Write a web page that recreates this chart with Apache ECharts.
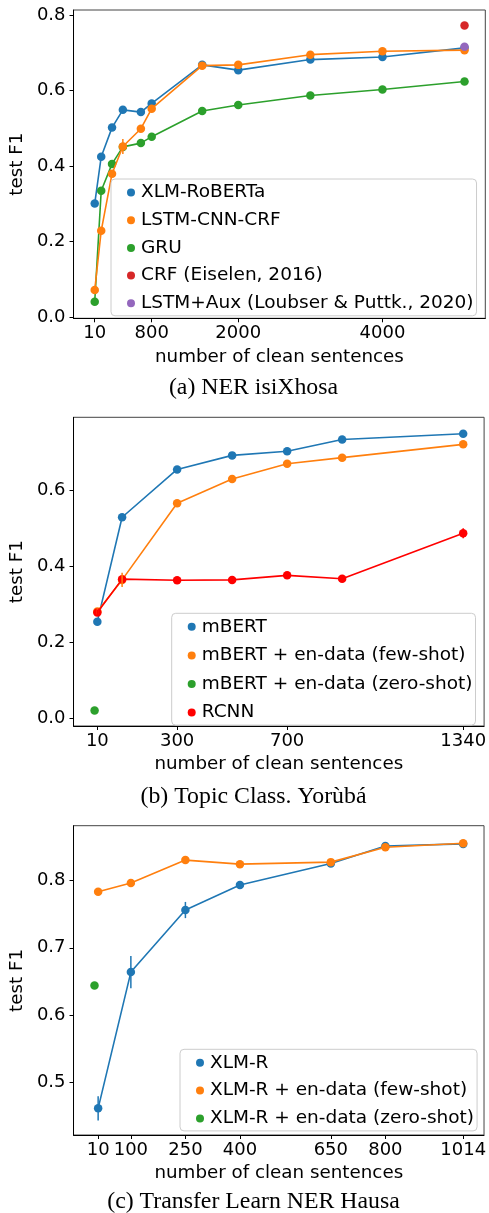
<!DOCTYPE html>
<html>
<head>
<meta charset="utf-8">
<script src="https://cdn.jsdelivr.net/npm/echarts@6/dist/echarts.min.js"></script>
<style>
html,body{margin:0;padding:0;background:#fff;}
#chart{width:489px;height:1213px;}
</style>
</head>
<body>
<div id="chart"></div>
<script>
// ---------- Panel (a) NER isiXhosa ----------
const aX = [10, 100, 250, 400, 650, 800, 1500, 2000, 3000, 4000, 5138];
const aXLMR = [0.301, 0.425, 0.502, 0.549, 0.543, 0.566, 0.668, 0.654, 0.682, 0.689, 0.713];
const aLSTM = [0.072, 0.229, 0.380, 0.452, 0.499, 0.552, 0.666, 0.668, 0.695, 0.704, 0.707];
const aLSTMErr = [0, 0, 0.006, 0.020, 0, 0, 0, 0, 0, 0, 0];
const aGRU = [0.041, 0.335, 0.406, 0.451, 0.461, 0.478, 0.546, 0.562, 0.587, 0.603, 0.624];
const aCRFX = [5138];
const aCRF = [0.772];
const aAuxX = [5138];
const aAux = [0.716];
const aXTicks = [10, 800, 2000, 4000];
const aYTicks = [0, 0.2, 0.4, 0.6, 0.8];

// ---------- Panel (b) Topic Class. Yoruba ----------
const bX = [10, 100, 300, 500, 700, 900, 1340];
const bMBERT = [0.255, 0.530, 0.656, 0.693, 0.704, 0.735, 0.750];
const bFew = [0.282, 0.365, 0.567, 0.631, 0.671, 0.687, 0.722];
const bFewErr = [0.008, 0.019, 0, 0, 0, 0, 0];
const bRCNN = [0.279, 0.367, 0.364, 0.365, 0.377, 0.368, 0.488];
const bRCNNErr = [0.008, 0, 0, 0, 0.005, 0, 0.013];
const bZeroX = [0];
const bZero = [0.021];
const bXTicks = [10, 300, 700, 1340];
const bYTicks = [0, 0.2, 0.4, 0.6];

// ---------- Panel (c) Transfer Learn NER Hausa ----------
const cX = [10, 100, 250, 400, 650, 800, 1014];
const cXLMR = [0.462, 0.664, 0.756, 0.793, 0.825, 0.851, 0.854];
const cXLMRErr = [0.018, 0.024, 0.012, 0.004, 0, 0, 0];
const cFew = [0.783, 0.796, 0.830, 0.824, 0.827, 0.849, 0.855];
const cZeroX = [0];
const cZero = [0.644];
const cXTicks = [10, 100, 250, 400, 650, 800, 1014];
const cYTicks = [0.5, 0.6, 0.7, 0.8];

const C = {blue:'#1f77b4', orange:'#ff7f0e', green:'#2ca02c', red:'#d62728', purple:'#9467bd', pure:'#ff0000'};
const FONT = 'DejaVu Sans';

function pairs(xs, ys){ return xs.map((x,i)=>[x, ys[i]]); }
function errData(xs, ys, es, color){
  const out = [];
  xs.forEach((x,i)=>{ if (es[i] > 0) out.push([x, ys[i], es[i], color]); });
  return out;
}
function lineSeries(name, xs, ys, color, idx, z){
  return {type:'line', name, data:pairs(xs, ys), xAxisIndex:idx, yAxisIndex:idx,
    symbol:'circle', symbolSize:8.5, showAllSymbol:true, z:z||2,
    lineStyle:{color, width:1.6}, itemStyle:{color}, emphasis:{disabled:true}};
}
function scatterSeries(name, xs, ys, color, idx, z){
  return {type:'scatter', name, data:pairs(xs, ys), xAxisIndex:idx, yAxisIndex:idx,
    symbol:'circle', symbolSize:8.5, itemStyle:{color, opacity:1}, z:z||3, emphasis:{disabled:true}};
}
function errSeries(data, idx){
  return {type:'custom', xAxisIndex:idx, yAxisIndex:idx, data, z:4,
    encode:{x:0, y:1},
    renderItem:function(params, api){
      const x = api.value(0), y = api.value(1), e = api.value(2);
      const p1 = api.coord([x, y - e]), p2 = api.coord([x, y + e]);
      const color = data[params.dataIndex][3];
      return {type:'line', shape:{x1:p1[0], y1:p1[1], x2:p2[0], y2:p2[1]},
        style:{stroke:color, lineWidth:1.5}};
    }};
}
function xAxis(idx, min, max, ticks){
  return {type:'value', gridIndex:idx, min, max,
    name:'number of clean sentences', nameLocation:'middle', nameGap:29.5,
    nameTextStyle:{fontFamily:FONT, fontSize:18.3, color:'#000'},
    axisLine:{show:true, onZero:false, lineStyle:{color:'#000', width:1}},
    axisTick:{show:true, length:4, customValues:ticks, lineStyle:{color:'#000', width:1}},
    axisLabel:{customValues:ticks, margin:6, fontFamily:FONT, fontSize:18, color:'#000',
      formatter:v=>String(Math.round(v))},
    splitLine:{show:false}};
}
function yAxis(idx, min, max, ticks){
  return {type:'value', gridIndex:idx, min, max,
    name:'test F1', nameLocation:'middle', nameGap:44,
    nameTextStyle:{fontFamily:FONT, fontSize:18.3, color:'#000'},
    axisLine:{show:true, onZero:false, lineStyle:{color:'#000', width:1}},
    axisTick:{show:true, length:4, customValues:ticks, lineStyle:{color:'#000', width:1}},
    axisLabel:{customValues:ticks, margin:8, fontFamily:FONT, fontSize:18, color:'#000',
      formatter:v=>v.toFixed(1)},
    splitLine:{show:false}};
}
function legend(names, left, top, gap){
  return {show:true, orient:'vertical', left, top, data:names, icon:'circle',
    itemWidth:8, itemHeight:8, itemGap:gap, itemStyle:{borderWidth:0},
    textStyle:{fontFamily:FONT, fontSize:18.5, color:'#000', lineHeight:18, padding:[0,0,0,1]},
    padding:[4, 3, 3, 16], backgroundColor:'rgba(255,255,255,0.8)',
    borderColor:'#cccccc', borderWidth:1, borderRadius:4,
    selectedMode:false};
}
function caption(text, top){
  return {text, left:253.5, textAlign:'center', top, padding:0,
    textStyle:{fontFamily:'Liberation Serif', fontWeight:'normal', fontSize:23.8, color:'#000', lineHeight:24}};
}

const gridBase = {left:71.7, right:3.7, show:true, borderColor:'#444', borderWidth:1, backgroundColor:'#fff'};

const option = {
  animation:false,
  title:[
    caption('(a) NER isiXhosa', 376),
    caption('(b) Topic Class. Yorùbá', 785),
    caption('(c) Transfer Learn NER Hausa', 1190)
  ],
  grid:[
    Object.assign({top:10, height:308.3}, gridBase),
    Object.assign({top:417.3, height:308.7}, gridBase),
    Object.assign({top:825.7, height:309.3}, gridBase)
  ],
  xAxis:[
    xAxis(0, -284, 5426, aXTicks),
    xAxis(1, -76.6, 1416, bXTicks),
    xAxis(2, -57.7, 1071.3, cXTicks)
  ],
  yAxis:[
    yAxis(0, -0.0026, 0.8132, aYTicks),
    yAxis(1, -0.0198, 0.7933, bYTicks),
    yAxis(2, 0.4225, 0.881, cYTicks)
  ],
  legend:[
    legend(['XLM-RoBERTa','LSTM-CNN-CRF','GRU','CRF (Eiselen, 2016)','LSTM+Aux (Loubser & Puttk., 2020)'], 111, 179, 8.7),
    legend(['mBERT','mBERT + en-data (few-shot)','mBERT + en-data (zero-shot)','RCNN'], 171.7, 613.3, 9.6),
    legend(['XLM-R','XLM-R + en-data (few-shot)','XLM-R + en-data (zero-shot)'], 180, 1049.3, 8.8)
  ],
  series:[
    lineSeries('XLM-RoBERTa', aX, aXLMR, C.blue, 0, 2),
    lineSeries('LSTM-CNN-CRF', aX, aLSTM, C.orange, 0, 3),
    lineSeries('GRU', aX, aGRU, C.green, 0, 2),
    scatterSeries('CRF (Eiselen, 2016)', aCRFX, aCRF, C.red, 0),
    scatterSeries('LSTM+Aux (Loubser & Puttk., 2020)', aAuxX, aAux, C.purple, 0),
    errSeries(errData(aX, aLSTM, aLSTMErr, C.orange), 0),

    lineSeries('mBERT', bX, bMBERT, C.blue, 1, 2),
    lineSeries('mBERT + en-data (few-shot)', bX, bFew, C.orange, 1, 2),
    scatterSeries('mBERT + en-data (zero-shot)', bZeroX, bZero, C.green, 1),
    lineSeries('RCNN', bX, bRCNN, C.pure, 1, 3),
    errSeries(errData(bX, bFew, bFewErr, C.orange).concat(errData(bX, bRCNN, bRCNNErr, C.pure)), 1),

    lineSeries('XLM-R', cX, cXLMR, C.blue, 2, 2),
    lineSeries('XLM-R + en-data (few-shot)', cX, cFew, C.orange, 2, 3),
    scatterSeries('XLM-R + en-data (zero-shot)', cZeroX, cZero, C.green, 2),
    errSeries(errData(cX, cXLMR, cXLMRErr, C.blue), 2)
  ]
};

const chart = echarts.init(document.getElementById('chart'), null, {renderer:'canvas'});
chart.setOption(option);
</script>
</body>
</html>
